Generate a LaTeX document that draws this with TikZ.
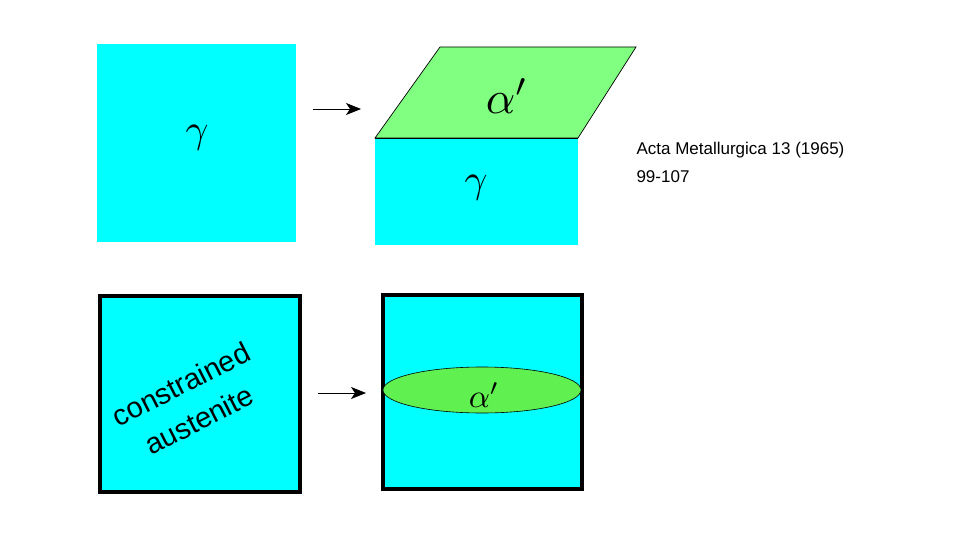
\documentclass[tikz,border=0pt]{standalone}
\usepackage{fontspec}
\setsansfont{Liberation Sans}
\usetikzlibrary{arrows.meta}
\begin{document}
\begin{tikzpicture}[x=1pt,y=-1pt,
  arr/.style={-{Stealth[length=15pt,width=12pt,inset=4pt]},line width=0.9pt},
  thick box/.style={fill=cyanc,draw=black,line width=3.5pt}]
\definecolor{cyanc}{RGB}{0,255,255}
\definecolor{greenl}{RGB}{128,255,128}
\definecolor{greene}{RGB}{96,240,80}
\useasboundingbox (0,0) rectangle (960,540);
\fill[cyanc] (97,44) rectangle (296,242);
\node (g1) at (197,138) {\scalebox{4}{$\gamma$}};
\coordinate (a1s) at (313,109); \coordinate (a1e) at (361,109);
\draw[arr] (a1s) -- (a1e);
\filldraw[fill=greenl,draw=black,line width=0.7pt] (440,47) -- (636,47) -- (578,138) -- (375,138) -- cycle;
\fill[cyanc] (375,138) rectangle (578,245);
\draw[line width=0.7pt] (375,138) -- (578,138);
\node (a2) at (507,96) {\scalebox{4.6}{$\alpha'$}};
\node (g2) at (476,188) {\scalebox{4}{$\gamma$}};
\node[anchor=west,font=\sffamily\fontsize{17}{28}\selectfont,align=left] (ref) at (633,162) {Acta Metallurgica 13 (1965)\\99-107};
\draw[thick box] (100,296) rectangle (300,492);
\node[rotate=27,font=\sffamily\fontsize{29}{40}\selectfont,align=center] (ca) at (190,402) {constrained\\austenite};
\coordinate (a3s) at (318,393); \coordinate (a3e) at (366,393);
\draw[arr] (a3s) -- (a3e);
\draw[thick box] (383,295) rectangle (582,489);
\filldraw[fill=greene,draw=black,line width=0.6pt] (482,390) ellipse (99 and 23);
\node (a3) at (484,395) {\scalebox{3.3}{$\alpha'$}};
\end{tikzpicture}
\end{document}
